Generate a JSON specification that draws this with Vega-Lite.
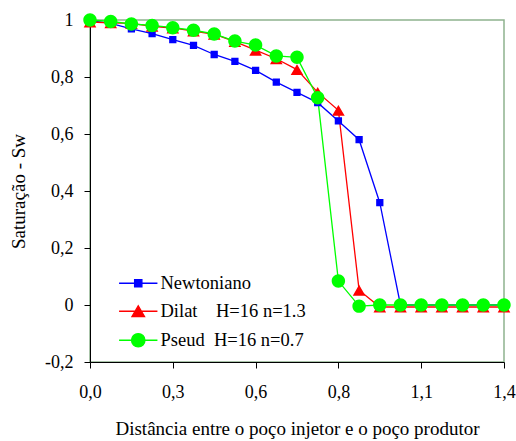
{
  "$schema": "https://vega.github.io/schema/vega-lite/v6.json",
  "width": 414,
  "height": 342,
  "autosize": "none",
  "padding": {"left": 90, "top": 20, "right": 12, "bottom": 79},
  "background": "white",
  "config": {
    "view": {"stroke": "#8fb28f", "strokeWidth": 1.5},
    "font": "Liberation Serif",
    "axis": {"labelFont": "Liberation Serif", "titleFont": "Liberation Serif"},
    "legend": {"labelFont": "Liberation Serif"}
  },
  "datasets": {
    "serie": [
      {"s": "Newtoniano", "d": 0.0, "sw": 0.998},
      {"s": "Newtoniano", "d": 0.07, "sw": 0.988},
      {"s": "Newtoniano", "d": 0.14, "sw": 0.969},
      {"s": "Newtoniano", "d": 0.21, "sw": 0.952},
      {"s": "Newtoniano", "d": 0.28, "sw": 0.931},
      {"s": "Newtoniano", "d": 0.35, "sw": 0.911},
      {"s": "Newtoniano", "d": 0.42, "sw": 0.879},
      {"s": "Newtoniano", "d": 0.49, "sw": 0.855},
      {"s": "Newtoniano", "d": 0.56, "sw": 0.823},
      {"s": "Newtoniano", "d": 0.63, "sw": 0.782},
      {"s": "Newtoniano", "d": 0.70, "sw": 0.746},
      {"s": "Newtoniano", "d": 0.77, "sw": 0.710},
      {"s": "Newtoniano", "d": 0.84, "sw": 0.646},
      {"s": "Newtoniano", "d": 0.91, "sw": 0.580},
      {"s": "Newtoniano", "d": 0.98, "sw": 0.359},
      {"s": "Newtoniano", "d": 1.05, "sw": 0.0},
      {"s": "Newtoniano", "d": 1.12, "sw": 0.0},
      {"s": "Newtoniano", "d": 1.19, "sw": 0.0},
      {"s": "Newtoniano", "d": 1.26, "sw": 0.0},
      {"s": "Newtoniano", "d": 1.33, "sw": 0.0},
      {"s": "Newtoniano", "d": 1.40, "sw": 0.0},
      {"s": "Dilat\u00a0\u00a0\u00a0 H=16 n=1.3", "d": 0.0, "sw": 0.993},
      {"s": "Dilat\u00a0\u00a0\u00a0 H=16 n=1.3", "d": 0.07, "sw": 0.99},
      {"s": "Dilat\u00a0\u00a0\u00a0 H=16 n=1.3", "d": 0.14, "sw": 0.988},
      {"s": "Dilat\u00a0\u00a0\u00a0 H=16 n=1.3", "d": 0.21, "sw": 0.978},
      {"s": "Dilat\u00a0\u00a0\u00a0 H=16 n=1.3", "d": 0.28, "sw": 0.972},
      {"s": "Dilat\u00a0\u00a0\u00a0 H=16 n=1.3", "d": 0.35, "sw": 0.961},
      {"s": "Dilat\u00a0\u00a0\u00a0 H=16 n=1.3", "d": 0.42, "sw": 0.950},
      {"s": "Dilat\u00a0\u00a0\u00a0 H=16 n=1.3", "d": 0.49, "sw": 0.924},
      {"s": "Dilat\u00a0\u00a0\u00a0 H=16 n=1.3", "d": 0.56, "sw": 0.894},
      {"s": "Dilat\u00a0\u00a0\u00a0 H=16 n=1.3", "d": 0.63, "sw": 0.864},
      {"s": "Dilat\u00a0\u00a0\u00a0 H=16 n=1.3", "d": 0.70, "sw": 0.826},
      {"s": "Dilat\u00a0\u00a0\u00a0 H=16 n=1.3", "d": 0.77, "sw": 0.746},
      {"s": "Dilat\u00a0\u00a0\u00a0 H=16 n=1.3", "d": 0.84, "sw": 0.683},
      {"s": "Dilat\u00a0\u00a0\u00a0 H=16 n=1.3", "d": 0.91, "sw": 0.052},
      {"s": "Dilat\u00a0\u00a0\u00a0 H=16 n=1.3", "d": 0.98, "sw": -0.007},
      {"s": "Dilat\u00a0\u00a0\u00a0 H=16 n=1.3", "d": 1.05, "sw": -0.007},
      {"s": "Dilat\u00a0\u00a0\u00a0 H=16 n=1.3", "d": 1.12, "sw": -0.007},
      {"s": "Dilat\u00a0\u00a0\u00a0 H=16 n=1.3", "d": 1.19, "sw": -0.007},
      {"s": "Dilat\u00a0\u00a0\u00a0 H=16 n=1.3", "d": 1.26, "sw": -0.007},
      {"s": "Dilat\u00a0\u00a0\u00a0 H=16 n=1.3", "d": 1.33, "sw": -0.007},
      {"s": "Dilat\u00a0\u00a0\u00a0 H=16 n=1.3", "d": 1.40, "sw": -0.007},
      {"s": "Pseud\u00a0 H=16 n=0.7", "d": 0.0, "sw": 1.0},
      {"s": "Pseud\u00a0 H=16 n=0.7", "d": 0.07, "sw": 0.995},
      {"s": "Pseud\u00a0 H=16 n=0.7", "d": 0.14, "sw": 0.986},
      {"s": "Pseud\u00a0 H=16 n=0.7", "d": 0.21, "sw": 0.981},
      {"s": "Pseud\u00a0 H=16 n=0.7", "d": 0.28, "sw": 0.973},
      {"s": "Pseud\u00a0 H=16 n=0.7", "d": 0.35, "sw": 0.964},
      {"s": "Pseud\u00a0 H=16 n=0.7", "d": 0.42, "sw": 0.951},
      {"s": "Pseud\u00a0 H=16 n=0.7", "d": 0.49, "sw": 0.926},
      {"s": "Pseud\u00a0 H=16 n=0.7", "d": 0.56, "sw": 0.912},
      {"s": "Pseud\u00a0 H=16 n=0.7", "d": 0.63, "sw": 0.874},
      {"s": "Pseud\u00a0 H=16 n=0.7", "d": 0.70, "sw": 0.869},
      {"s": "Pseud\u00a0 H=16 n=0.7", "d": 0.77, "sw": 0.727},
      {"s": "Pseud\u00a0 H=16 n=0.7", "d": 0.84, "sw": 0.084},
      {"s": "Pseud\u00a0 H=16 n=0.7", "d": 0.91, "sw": -0.004},
      {"s": "Pseud\u00a0 H=16 n=0.7", "d": 0.98, "sw": 0.0},
      {"s": "Pseud\u00a0 H=16 n=0.7", "d": 1.05, "sw": 0.0},
      {"s": "Pseud\u00a0 H=16 n=0.7", "d": 1.12, "sw": 0.0},
      {"s": "Pseud\u00a0 H=16 n=0.7", "d": 1.19, "sw": 0.0},
      {"s": "Pseud\u00a0 H=16 n=0.7", "d": 1.26, "sw": 0.0},
      {"s": "Pseud\u00a0 H=16 n=0.7", "d": 1.33, "sw": 0.0},
      {"s": "Pseud\u00a0 H=16 n=0.7", "d": 1.40, "sw": 0.0}
    ]
  },
  "data": {"name": "serie"},
  "encoding": {
    "x": {
      "field": "d", "type": "quantitative",
      "scale": {"domain": [0, 1.4], "nice": false, "zero": false},
      "axis": {
        "title": "Distância entre o poço injetor e o poço produtor",
        "titleFont": "Liberation Serif", "titleFontSize": 19, "titleFontWeight": "normal", "titleColor": "black",
        "titlePadding": 18,
        "values": [0, 0.28, 0.56, 0.84, 1.12, 1.4],
        "labelExpr": "replace(format(datum.value, '.1f'), '.', ',')",
        "labelFont": "Liberation Serif", "labelFontSize": 18, "labelColor": "black",
        "labelPadding": 15, "labelFlush": false, "labelOverlap": false,
        "tickSize": 6, "tickColor": "black", "tickWidth": 1,
        "domainColor": "black", "domainWidth": 1, "grid": false
      }
    },
    "y": {
      "field": "sw", "type": "quantitative",
      "scale": {"domain": [-0.2, 1], "nice": false, "zero": false},
      "axis": {
        "title": "Saturação - Sw",
        "titleFont": "Liberation Serif", "titleFontSize": 19, "titleFontWeight": "normal", "titleColor": "black",
        "titlePadding": 16,
        "values": [-0.2, 0, 0.2, 0.4, 0.6, 0.8, 1],
        "labelExpr": "replace(toString(datum.value), '.', ',')",
        "labelFont": "Liberation Serif", "labelFontSize": 18, "labelColor": "black",
        "labelPadding": 11, "labelFlush": false, "labelOverlap": false,
        "tickSize": 6, "tickColor": "black", "tickWidth": 1,
        "domainColor": "black", "domainWidth": 1, "grid": false
      }
    }
  },
  "layer": [
    {
      "mark": {"type": "line", "strokeWidth": 1.3},
      "encoding": {
        "stroke": {
          "field": "s", "type": "nominal",
          "scale": {"domain": ["Newtoniano", "Dilat\u00a0\u00a0\u00a0 H=16 n=1.3", "Pseud\u00a0 H=16 n=0.7"], "range": ["#0000ff", "#ff0000", "#00ff00"]},
          "legend": {
            "orient": "none", "legendX": 39, "legendY": 254, "title": null, "padding": 0,
            "symbolSize": 196, "symbolStrokeWidth": 1.3, "symbolOpacity": 1,
            "labelFont": "Liberation Serif", "labelFontSize": 18.5, "labelColor": "black", "labelLimit": 300,
            "labelOffset": 13, "rowPadding": 9
          }
        }
      }
    },
    {
      "mark": {"type": "point", "filled": true, "opacity": 1, "size": 196},
      "encoding": {
        "color": {
          "field": "s", "type": "nominal",
          "scale": {"domain": ["Newtoniano", "Dilat\u00a0\u00a0\u00a0 H=16 n=1.3", "Pseud\u00a0 H=16 n=0.7"], "range": ["#0000ff", "#ff0000", "#00ff00"]},
          "legend": {
            "orient": "none", "legendX": 39, "legendY": 254, "title": null, "padding": 0,
            "symbolSize": 196, "symbolStrokeWidth": 1.3, "symbolOpacity": 1,
            "labelFont": "Liberation Serif", "labelFontSize": 18.5, "labelColor": "black", "labelLimit": 300,
            "labelOffset": 13, "rowPadding": 9
          }
        },
        "shape": {
          "field": "s", "type": "nominal",
          "scale": {
            "domain": ["Newtoniano", "Dilat\u00a0\u00a0\u00a0 H=16 n=1.3", "Pseud\u00a0 H=16 n=0.7"],
            "range": [
              "M-2.74,0H2.74M-0.52,-0.52H0.52V0.52H-0.52Z",
              "M-2.74,0H2.74M0,-0.78L0.9,0.78L-0.9,0.78Z",
              "M-2.74,0H2.74M-0.96,0A0.96,0.96 0 1,0 0.96,0A0.96,0.96 0 1,0 -0.96,0Z"
            ]
          },
          "legend": {
            "orient": "none", "legendX": 39, "legendY": 254, "title": null, "padding": 0,
            "symbolSize": 196, "symbolStrokeWidth": 1.3, "symbolOpacity": 1,
            "labelFont": "Liberation Serif", "labelFontSize": 18.5, "labelColor": "black", "labelLimit": 300,
            "labelOffset": 13, "rowPadding": 9
          }
        }
      }
    }
  ]
}
